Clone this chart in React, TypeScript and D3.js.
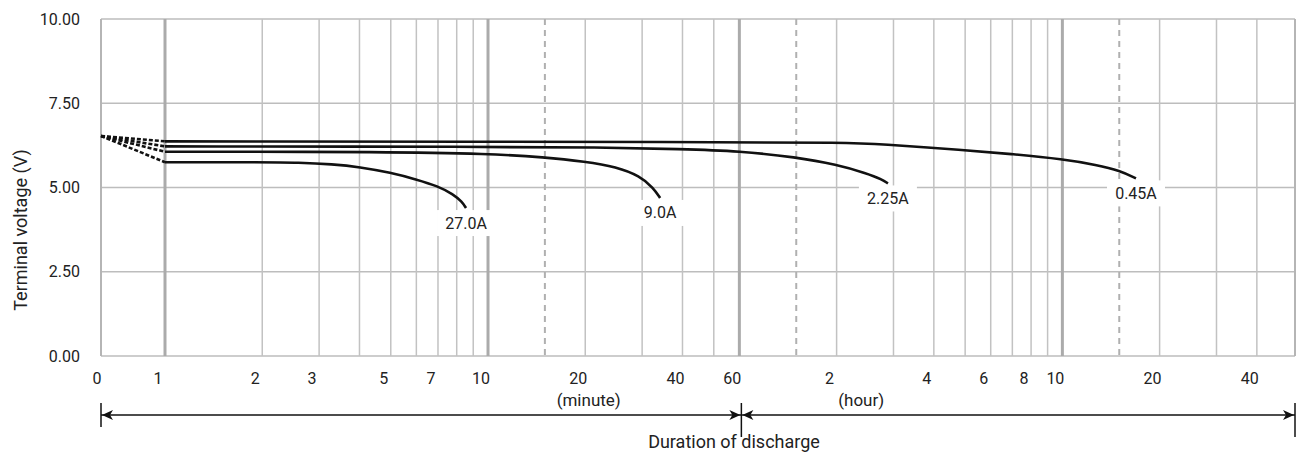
import React from "react";
import * as d3 from "d3";

// discharge curves: [minutes, volts]
const startVoltage = 6.53;
const curve27A: [number, number][] = [
  [1, 5.75], [2, 5.75], [2.6, 5.74], [3.3, 5.69], [4, 5.61], [5, 5.44], [6, 5.24],
  [7, 5.04], [7.8, 4.8], [8.3, 4.58], [8.55, 4.39],
];
const curve9A: [number, number][] = [
  [1, 6.06], [5, 6.06], [10, 6.0], [15, 5.9], [20, 5.77], [25, 5.61],
  [29.5, 5.34], [32.5, 4.99], [34.1, 4.69],
];
const curve225A: [number, number][] = [
  [1, 6.22], [10, 6.21], [22, 6.19], [40, 6.14], [60, 6.08], [90, 5.9],
  [120, 5.68], [149, 5.42], [166, 5.24], [173, 5.12],
];
const curve045A: [number, number][] = [
  [1, 6.37], [60, 6.35], [125, 6.33], [164, 6.29], [298, 6.11], [422, 5.99],
  [603, 5.84], [768, 5.67], [905, 5.5], [1014, 5.27],
];
const seriesNames = ["27.0A", "9.0A", "2.25A", "0.45A"];
const seriesData = [curve27A, curve9A, curve225A, curve045A];

const yTicks = [0, 2.5, 5, 7.5, 10];
const minorMinutes = [2, 3, 4, 5, 6, 7, 8, 9, 20, 30, 40, 50];
const minorHours = [2, 3, 4, 5, 6, 7, 8, 9, 20, 30, 40];
const majorMinutes = [1, 10, 60, 600];
const dashedMinutes = [15, 90, 900];
const minuteLabels = [1, 2, 3, 5, 7, 10, 20, 40, 60];
const hourLabels = [2, 4, 6, 8, 10, 20, 40];

const W = 1303;
const H = 453;
const left = 101;
const right = 1295;
const top = 19;
const bottom = 356;
const font = "Roboto, sans-serif";

const xLog = d3.scaleLog().domain([1, 3150]).range([165, right]);
const xLin = d3.scaleLinear().domain([0, 1]).range([left, 165]);
const x = (t: number) => (t < 1 ? xLin(t) : xLog(t));
const y = d3.scaleLinear().domain([0, 10]).range([bottom, top]);

const line = d3
  .line<[number, number]>()
  .x((d) => x(d[0]))
  .y((d) => y(d[1]))
  .curve(d3.curveBasis);

export default function App() {
  const minorAll = [...minorMinutes, ...minorHours.map((h) => h * 60)];
  const labelsX = [
    { t: 0, s: "0" },
    ...minuteLabels.map((m) => ({ t: m, s: String(m) })),
    ...hourLabels.map((h) => ({ t: h * 60, s: String(h) })),
  ];
  const arrowY = 415;
  const mid = x(60);
  return (
    <svg
      width={W}
      height={H}
      style={{ position: "absolute", left: 0, top: 0, background: "#fff" }}
      fontFamily={font}
    >
      {/* grid */}
      {yTicks.map((v) => (
        <line key={"h" + v} x1={left} x2={right} y1={y(v)} y2={y(v)} stroke="#bdbdbd" strokeWidth={1.6} />
      ))}
      {minorAll.map((t) => (
        <line key={"m" + t} x1={x(t)} x2={x(t)} y1={top} y2={bottom} stroke="#c2c2c2" strokeWidth={1.5} />
      ))}
      {dashedMinutes.map((t) => (
        <line key={"d" + t} x1={x(t)} x2={x(t)} y1={top} y2={bottom} stroke="#b0b0b0" strokeWidth={2} strokeDasharray="6 5" />
      ))}
      {majorMinutes.map((t) => (
        <line key={"M" + t} x1={x(t)} x2={x(t)} y1={top} y2={bottom} stroke="#ababab" strokeWidth={3} />
      ))}
      <line x1={left} x2={left} y1={top} y2={bottom} stroke="#b5b5b5" strokeWidth={2} />
      <line x1={right} x2={right} y1={top} y2={bottom} stroke="#b5b5b5" strokeWidth={2} />

      {/* y axis labels */}
      {yTicks.map((v) => (
        <text key={"yl" + v} x={80} y={y(v)} textAnchor="end" dominantBaseline="central" fontSize={16} fill="#222">
          {v.toFixed(2)}
        </text>
      ))}
      <text
        transform={`translate(27,230) rotate(-90)`}
        textAnchor="middle"
        fontSize={18}
        fill="#222"
      >
        Terminal voltage (V)
      </text>

      {/* x labels */}
      {labelsX.map((l, i) => (
        <text key={"xl" + i} x={x(l.t) - (l.t === 0 ? 4 : 7)} y={384} textAnchor="middle" fontSize={16} fill="#222">
          {l.s}
        </text>
      ))}
      <text x={x(20.5)} y={406} textAnchor="middle" fontSize={17} fill="#222">(minute)</text>
      <text x={x(143)} y={406} textAnchor="middle" fontSize={17} fill="#222">(hour)</text>

      {/* curves */}
      {seriesData.map((d, i) => (
        <g key={"s" + i}>
          <line
            x1={x(0)}
            y1={y(startVoltage)}
            x2={x(d[0][0])}
            y2={y(d[0][1])}
            stroke="#111"
            strokeWidth={2.6}
            strokeDasharray="4 2"
          />
          <path d={line(d) || ""} fill="none" stroke="#111" strokeWidth={2.6} />
        </g>
      ))}

      {/* curve labels */}
      {seriesData.map((d, i) => {
        const end = d[d.length - 1];
        const cx = x(end[0]);
        const cy = y(end[1]) + 15;
        return (
          <g key={"lab" + i}>
            <rect x={cx - 29} y={cy - 13} width={58} height={26} fill="#fff" />
            <text x={cx} y={cy} textAnchor="middle" dominantBaseline="central" fontSize={16} fill="#222">
              {seriesNames[i]}
            </text>
          </g>
        );
      })}

      {/* duration arrows */}
      <g stroke="#111" strokeWidth={1.5}>
        <line x1={left} x2={left} y1={403} y2={427} />
        <line x1={mid + 2} x2={mid + 2} y1={403} y2={437} />
        <line x1={right} x2={right} y1={403} y2={437} />
        <line x1={left} x2={right} y1={arrowY} y2={arrowY} />
      </g>
      <g fill="#111">
        <path d={`M${left + 1},${arrowY} l11,-5 l-3,5 l3,5 z`} />
        <path d={`M${mid + 1},${arrowY} l-11,-5 l3,5 l-3,5 z`} />
        <path d={`M${mid + 3},${arrowY} l11,-5 l-3,5 l3,5 z`} />
        <path d={`M${right - 1},${arrowY} l-11,-5 l3,5 l-3,5 z`} />
      </g>
      <text x={734} y={448} textAnchor="middle" fontSize={18} fill="#222">
        Duration of discharge
      </text>
    </svg>
  );
}
